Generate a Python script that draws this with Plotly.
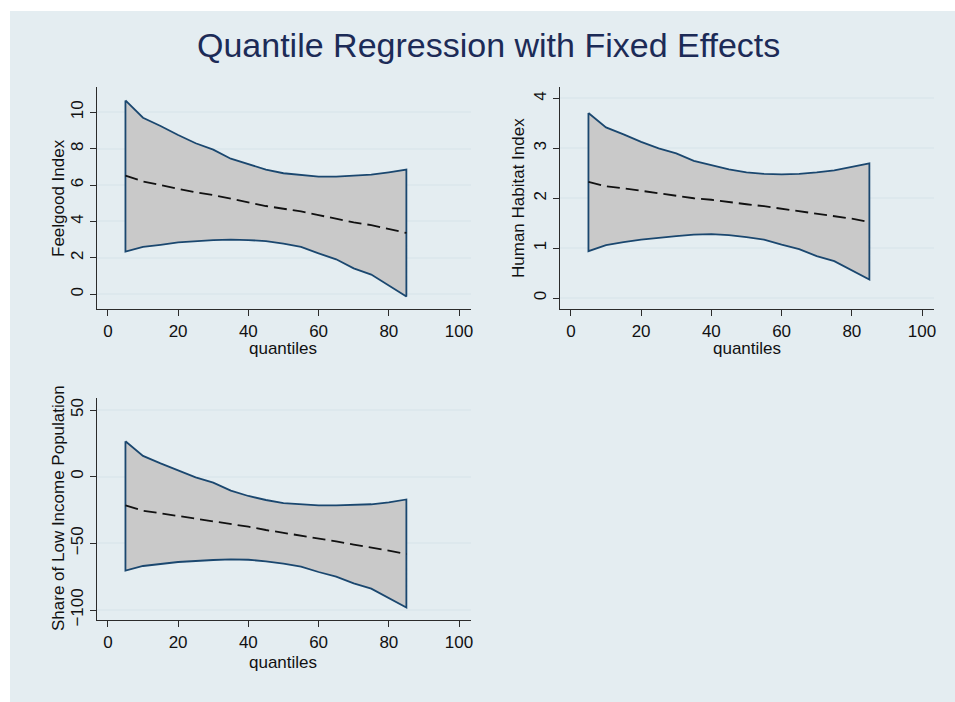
import plotly.graph_objects as go

W, H = 955, 702

quantiles = [5, 10, 15, 20, 25, 30, 35, 40, 45, 50, 55, 60, 65, 70, 75, 80, 85]

feel_upper = [10.65, 9.7, 9.25, 8.75, 8.3, 7.95, 7.45, 7.15, 6.85, 6.65, 6.55, 6.47, 6.47, 6.52, 6.57, 6.7, 6.85]
feel_lower = [2.34, 2.6, 2.72, 2.85, 2.93, 2.97, 3.0, 2.98, 2.92, 2.78, 2.6, 2.25, 1.92, 1.42, 1.08, 0.5, -0.12]
feel_coef = [6.52, 6.2, 6.0, 5.8, 5.6, 5.45, 5.25, 5.05, 4.85, 4.7, 4.55, 4.35, 4.15, 3.95, 3.8, 3.6, 3.37]

hab_upper = [3.71, 3.42, 3.28, 3.13, 3.0, 2.9, 2.75, 2.66, 2.58, 2.52, 2.49, 2.48, 2.49, 2.52, 2.56, 2.63, 2.7]
hab_lower = [0.94, 1.06, 1.12, 1.17, 1.21, 1.24, 1.27, 1.28, 1.26, 1.22, 1.17, 1.07, 0.98, 0.84, 0.74, 0.55, 0.37]
hab_coef = [2.33, 2.24, 2.2, 2.15, 2.1, 2.06, 2.0, 1.97, 1.92, 1.88, 1.84, 1.79, 1.74, 1.69, 1.65, 1.59, 1.52]

low_upper = [26.6, 15.6, 10.0, 4.5, -0.5, -4.5, -10.5, -14.5, -17.5, -19.8, -20.8, -21.6, -21.6, -21.2, -20.7, -19.2, -17.1]
low_lower = [-70.4, -67.0, -65.5, -64.0, -63.0, -62.5, -62.0, -62.3, -63.5, -65.3, -67.5, -71.5, -75.0, -80.0, -84.0, -91.0, -98.2]
low_coef = [-21.6, -25.5, -27.5, -29.5, -31.3, -33.0, -35.5, -37.5, -40.0, -42.0, -44.0, -46.5, -48.5, -51.0, -53.0, -55.5, -58.0]

x_ticks = [0, 20, 40, 60, 80, 100]
feel_ticks = [0, 2, 4, 6, 8, 10]
hab_ticks = [0, 1, 2, 3, 4]
low_ticks = [-100, -50, 0, 50]

title_text = "Quantile Regression with Fixed Effects"
y_titles = ["Feelgood Index", "Human Habitat Index", "Share of Low Income Population"]
x_title = "quantiles"

NAVY = "#1a476f"
FILL = "#c9c9c9"
BG = "#e4edf1"
GRID = "#dde8ed"
AX = "#2b2b2b"
FONT = "Liberation Sans, Arial, sans-serif"


def px_x(p):
    return p / W


def px_y(p):
    return 1 - p / H


fig = go.Figure()

panels = [
    (feel_upper, feel_lower, feel_coef, feel_ticks, [-0.81, 11.39], (97, 471), (87, 309), "x", "y"),
    (hab_upper, hab_lower, hab_coef, hab_ticks, [-0.22, 4.23], (560, 934), (87, 309), "x2", "y2"),
    (low_upper, low_lower, low_coef, low_ticks, [-107.5, 59.0], (97, 471), (398, 620), "x3", "y3"),
]

layout_axes = {}
for i, (up, lo, co, ticks, yr, xp, yp, xa, ya) in enumerate(panels):
    poly_x = quantiles + quantiles[::-1] + [quantiles[0]]
    poly_y = up + lo[::-1] + [up[0]]
    fig.add_trace(go.Scatter(x=poly_x, y=poly_y, mode="lines", fill="toself",
                             fillcolor=FILL, line=dict(color=NAVY, width=1.8),
                             xaxis=xa, yaxis=ya, showlegend=False, hoverinfo="skip"))
    fig.add_trace(go.Scatter(x=quantiles, y=co, mode="lines",
                             line=dict(color="#111111", width=1.8, dash="13px,6px"),
                             xaxis=xa, yaxis=ya, showlegend=False))
    suffix = "" if i == 0 else str(i + 1)
    layout_axes["xaxis" + suffix] = dict(
        domain=[px_x(xp[0]), px_x(xp[1])], range=[-3.1, 103.4],
        tickvals=x_ticks, ticks="outside", ticklen=6, tickcolor=AX, tickwidth=1.2,
        showline=True, linecolor=AX, linewidth=1.2, showgrid=False, zeroline=False,
        anchor=ya, automargin=False, tickfont=dict(size=17, color="#111111", family=FONT),
    )
    layout_axes["yaxis" + suffix] = dict(
        domain=[px_y(yp[1]), px_y(yp[0])], range=yr,
        tickvals=ticks, tickangle=-90, ticks="outside", ticklen=6, tickcolor=AX, tickwidth=1.2,
        showline=True, linecolor=AX, linewidth=1.2, showgrid=True, gridcolor=GRID, gridwidth=1.5,
        zeroline=False, anchor=xa, automargin=False,
        tickfont=dict(size=17, color="#111111", family=FONT),
    )

fig.update_layout(**layout_axes)

annotations = [
    dict(text=title_text, x=px_x(488), y=px_y(45), xref="paper", yref="paper",
         showarrow=False, font=dict(size=34, color="#1c2b57", family=FONT),
         xanchor="center", yanchor="middle"),
    dict(text=y_titles[0], x=px_x(58), y=px_y(198), xref="paper", yref="paper", textangle=-90,
         showarrow=False, font=dict(size=17, color="#111111", family=FONT), xanchor="center", yanchor="middle"),
    dict(text=y_titles[1], x=px_x(518), y=px_y(198), xref="paper", yref="paper", textangle=-90,
         showarrow=False, font=dict(size=17, color="#111111", family=FONT), xanchor="center", yanchor="middle"),
    dict(text=y_titles[2], x=px_x(58), y=px_y(508), xref="paper", yref="paper", textangle=-90,
         showarrow=False, font=dict(size=17, color="#111111", family=FONT), xanchor="center", yanchor="middle"),
    dict(text=x_title, x=px_x(283), y=px_y(349), xref="paper", yref="paper",
         showarrow=False, font=dict(size=17, color="#111111", family=FONT), xanchor="center", yanchor="middle"),
    dict(text=x_title, x=px_x(747), y=px_y(349), xref="paper", yref="paper",
         showarrow=False, font=dict(size=17, color="#111111", family=FONT), xanchor="center", yanchor="middle"),
    dict(text=x_title, x=px_x(283), y=px_y(662), xref="paper", yref="paper",
         showarrow=False, font=dict(size=17, color="#111111", family=FONT), xanchor="center", yanchor="middle"),
]

fig.update_layout(
    width=W, height=H, autosize=False,
    margin=dict(l=0, r=0, t=0, b=0, pad=0, autoexpand=False),
    paper_bgcolor="white", plot_bgcolor="white",
    annotations=annotations,
    shapes=[dict(type="rect", xref="paper", yref="paper", x0=px_x(10), x1=1.05,
                 y0=-0.05, y1=px_y(11), fillcolor=BG, line=dict(width=0), layer="below")],
    font=dict(family=FONT),
)

css_js = (
    "var s=document.createElement('style');"
    "s.textContent='html,body{margin:0!important;padding:0!important;overflow:hidden;}';"
    "document.head.appendChild(s);"
)

fig.write_html("out.html", config={"displayModeBar": False, "responsive": False},
               post_script=css_js)
